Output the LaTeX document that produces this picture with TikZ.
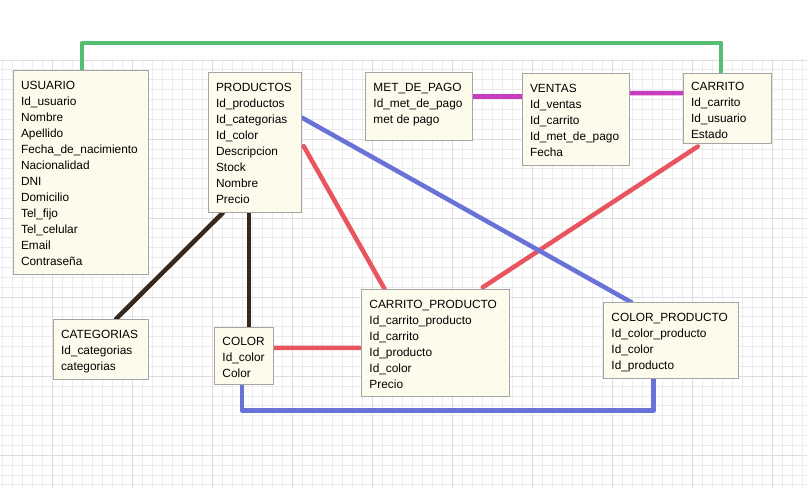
\documentclass[tikz,border=0pt]{standalone}
\usepackage{fontspec}
\setmainfont{Liberation Sans}
\usetikzlibrary{calc,fit,backgrounds}
\definecolor{gridminor}{RGB}{236,236,236}
\definecolor{gridmajor}{RGB}{222,222,222}
\definecolor{boxfill}{RGB}{253,252,236}
\definecolor{boxline}{RGB}{165,165,165}
\definecolor{lgreen}{RGB}{85,190,115}
\definecolor{lmag}{RGB}{200,60,190}
\definecolor{lblue}{RGB}{105,115,215}
\definecolor{lred}{RGB}{232,85,95}
\definecolor{lbrown}{RGB}{55,40,30}
\begin{document}
\begin{tikzpicture}[x=0.75pt,y=-0.75pt,
  tbl/.style={draw=boxline, fill=boxfill, line width=0.75pt, inner sep=0pt},
  txt/.style={anchor=north west, inner sep=0pt, align=left, font=\fontsize{8.9}{12}\selectfont},
  conn/.style={line width=3.4pt, line cap=round, line join=round},
  minorline/.style={gridminor, line width=0.75pt},
  majorline/.style={gridmajor, line width=0.75pt}]
\useasboundingbox (0,0) rectangle (807,488);
\begin{pgfonlayer}{background}
\fill[white] (0,0) rectangle (807,488);
\begin{scope}
\clip (0,59.5) rectangle (807,488);
\foreach \i in {0,...,80} \draw[minorline] ({2.7+10*\i},0) -- ({2.7+10*\i},488);
\foreach \j in {-3,...,40} \draw[minorline] (0,{455.3-9.88*\j}) -- (807,{455.3-9.88*\j});
\foreach \i in {0,...,9} \draw[majorline] ({52.7+80*\i},0) -- ({52.7+80*\i},488);
\foreach \j in {0,...,5} \draw[majorline] (0,{455.3-79.04*\j}) -- (807,{455.3-79.04*\j});
\end{scope}
\end{pgfonlayer}

% tables
\node[tbl, fit={(13.3,70.7) (148.3,274.3)}] (usuario) {};
\node[txt] (usuario-t) at ($(usuario.north west)+(8,10.5)$) {USUARIO\\Id\_usuario\\Nombre\\Apellido\\Fecha\_de\_nacimiento\\Nacionalidad\\DNI\\Domicilio\\Tel\_fijo\\Tel\_celular\\Email\\Contraseña};

\node[tbl, fit={(208.3,72.7) (301.7,212.3)}] (productos) {};
\node[txt] (productos-t) at ($(productos.north west)+(8,10.7)$) {PRODUCTOS\\Id\_productos\\Id\_categorias\\Id\_color\\Descripcion\\Stock\\Nombre\\Precio};

\node[tbl, fit={(365.7,72.7) (472.3,141)}] (metpago) {};
\node[txt] (metpago-t) at ($(metpago.north west)+(8,11.2)$) {MET\_DE\_PAGO\\Id\_met\_de\_pago\\met de pago};

\node[tbl, fit={(522.3,73.7) (629,165.3)}] (ventas) {};
\node[txt] (ventas-t) at ($(ventas.north west)+(8,10.7)$) {VENTAS\\Id\_ventas\\Id\_carrito\\Id\_met\_de\_pago\\Fecha};

\node[tbl, fit={(683.3,74) (771.7,144)}] (carrito) {};
\node[txt] (carrito-t) at ($(carrito.north west)+(8,8.7)$) {CARRITO\\Id\_carrito\\Id\_usuario\\Estado};

\node[tbl, fit={(53.3,319.3) (148.7,379.3)}] (categorias) {};
\node[txt] (categorias-t) at ($(categorias.north west)+(8,10.7)$) {CATEGORIAS\\Id\_categorias\\categorias};

\node[tbl, fit={(214.7,327.3) (273.7,384)}] (color) {};
\node[txt] (color-t) at ($(color.north west)+(8,10.2)$) {COLOR\\Id\_color\\Color};

\node[tbl, fit={(361.7,289.3) (509.3,396.3)}] (carprod) {};
\node[txt] (carprod-t) at ($(carprod.north west)+(8,10.7)$) {CARRITO\_PRODUCTO\\Id\_carrito\_producto\\Id\_carrito\\Id\_producto\\Id\_color\\Precio};

\node[tbl, fit={(603.7,302.7) (738.7,378.3)}] (colprod) {};
\node[txt] (colprod-t) at ($(colprod.north west)+(8,10.4)$) {COLOR\_PRODUCTO\\Id\_color\_producto\\Id\_color\\Id\_producto};

% connectors
\begin{pgfonlayer}{background}
\coordinate (gtop) at (400,43.3);
\draw[conn, lgreen, line width=3pt] ($(usuario.north west)+(68.7,0)$) |- (gtop) -| ($(carrito.north west)+(38.4,0)$);

\draw[conn, lmag] ($(metpago.north east)+(0,24.3)$) -- ($(ventas.north west)+(0,23.3)$);
\draw[conn, lmag] ($(ventas.north east)+(0,20)$) -- ($(carrito.north west)+(0,19.7)$);

\draw[conn, lbrown] ($(productos.south west)+(15,0)$) -- ($(categorias.north west)+(63.4,0)$);
\draw[conn, lbrown] ($(productos.south west)+(41,0)$) -- ($(color.north west)+(34.6,0)$);

\draw[conn, lred] ($(productos.north east)+(1.5,74)$) -- ($(carprod.north west)+(23.3,0)$);
\draw[conn, lred] ($(carrito.south west)+(15,2)$) -- ($(carprod.north west)+(121.6,-1.5)$);
\draw[conn, lred] ($(color.north east)+(0,21)$) -- ($(carprod.north west)+(0,59)$);

\draw[conn, lblue] ($(productos.north east)+(0,45.6)$) -- ($(colprod.north west)+(28,0)$);
\draw[conn, lblue] ($(color.south west)+(27.6,0)$) -- ++(0,26) -| ($(colprod.south west)+(50.3,0)$);
\end{pgfonlayer}
\end{tikzpicture}
\end{document}
